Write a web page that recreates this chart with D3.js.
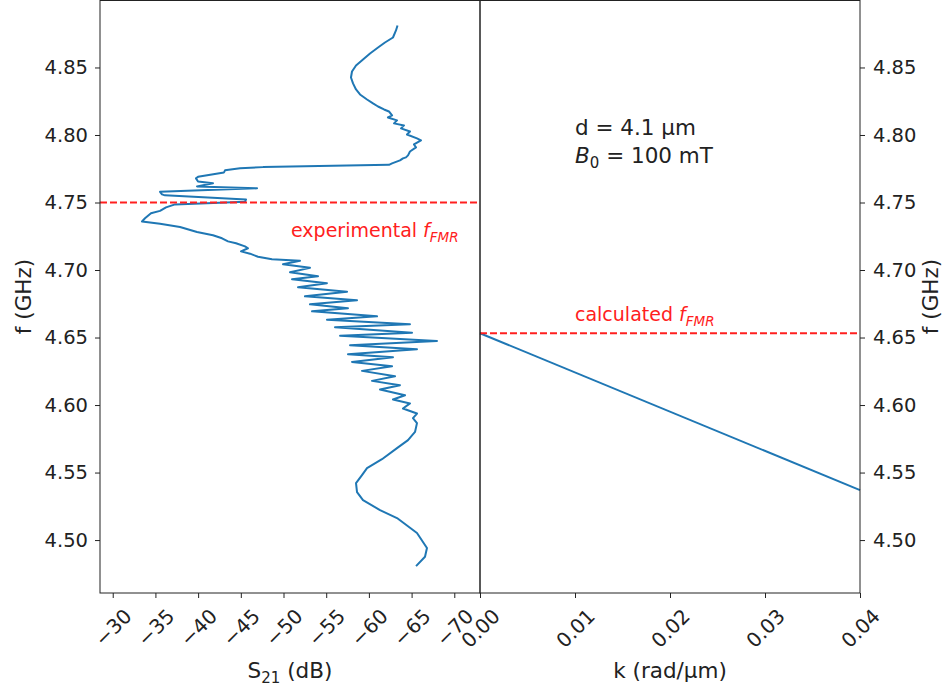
<!DOCTYPE html>
<html>
<head>
<meta charset="utf-8">
<script src="https://cdn.jsdelivr.net/npm/d3@7"></script>
<style>
body { margin: 0; background: #fff; }
text { font-family: "DejaVu Sans", sans-serif; fill: #222; }
</style>
</head>
<body>
<svg id="chart" width="944" height="688"></svg>
<script>
var s21 = [-63.35, -63.17, -62.82, -61.88, -61.07, -60.13, -59.31, -58.49, -58.02, -57.90,
  -58.14, -58.49, -58.96, -59.78, -60.48, -61.07, -61.77, -62.35, -62.71, -62.23,
  -63.29, -62.94, -64.11, -63.76, -64.81, -64.46, -65.63, -66.10, -65.28, -65.51,
  -64.81, -64.58, -64.34, -63.99, -63.64, -62.71, -62.35, -47.60, -44.91, -43.15,
  -43.03, -39.99, -39.75, -39.99, -41.74, -39.87, -46.90, -35.54, -35.77, -36.12,
  -45.61, -45.49, -37.30, -36.24, -35.54, -34.48, -33.78, -33.43, -35.54, -37.88,
  -39.87, -41.74, -42.80, -43.50, -44.44, -45.49, -45.84, -45.02, -46.08, -47.01,
  -48.65, -51.93, -49.94, -53.10, -50.76, -54.04, -51.00, -55.09, -51.70, -57.44,
  -52.51, -58.61, -53.10, -57.55, -53.34, -60.95, -55.09, -64.81, -56.03, -65.05,
  -56.62, -67.97, -57.79, -65.63, -57.55, -62.82, -58.02, -62.71, -59.19, -63.06,
  -60.36, -63.64, -61.30, -64.23, -62.82, -64.81, -63.99, -65.63, -65.16, -65.63,
  -65.40, -64.58, -63.29, -61.53, -59.78, -59.19, -58.49, -58.61, -59.31, -61.30,
  -63.29, -65.63, -66.80, -66.57, -65.52];
var freq = [4.8811, 4.8774, 4.8722, 4.8685, 4.8648, 4.8604, 4.8559, 4.8515, 4.8470, 4.8426,
  4.8382, 4.8337, 4.8300, 4.8263, 4.8234, 4.8211, 4.8189, 4.8174, 4.8145, 4.8130,
  4.8108, 4.8086, 4.8071, 4.8049, 4.8026, 4.8004, 4.7975, 4.7960, 4.7930, 4.7908,
  4.7878, 4.7849, 4.7834, 4.7827, 4.7812, 4.7790, 4.7779, 4.7762, 4.7753, 4.7738,
  4.7723, 4.7690, 4.7679, 4.7656, 4.7642, 4.7619, 4.7605, 4.7579, 4.7560, 4.7553,
  4.7523, 4.7505, 4.7486, 4.7464, 4.7438, 4.7420, 4.7383, 4.7360, 4.7342, 4.7318,
  4.7281, 4.7257, 4.7235, 4.7212, 4.7198, 4.7175, 4.7161, 4.7138, 4.7121, 4.7098,
  4.7079, 4.7068, 4.7042, 4.7016, 4.6983, 4.6953, 4.6931, 4.6902, 4.6872, 4.6839,
  4.6805, 4.6776, 4.6746, 4.6717, 4.6694, 4.6657, 4.6632, 4.6598, 4.6576, 4.6535,
  4.6513, 4.6475, 4.6443, 4.6413, 4.6376, 4.6354, 4.6319, 4.6287, 4.6253, 4.6213,
  4.6179, 4.6147, 4.6115, 4.6073, 4.6041, 4.6012, 4.5974, 4.5937, 4.5903, 4.5866,
  4.5801, 4.5740, 4.5681, 4.5599, 4.5533, 4.5481, 4.5422, 4.5355, 4.5296, 4.5222,
  4.5163, 4.5052, 4.4941, 4.4876, 4.4807];

// calculated dispersion
var kVals = [0, 0.04];
var fDisp = [4.6532, 4.537];

var fExpFMR = 4.75;
var fCalcFMR = 4.6532;

var s21Ticks = [-30, -35, -40, -45, -50, -55, -60, -65, -70];
var kTicks = [0, 0.01, 0.02, 0.03, 0.04];
var fTicks = [4.50, 4.55, 4.60, 4.65, 4.70, 4.75, 4.80, 4.85];

var svg = d3.select("#chart");
var T = 0.5, B = 593, L = 100, M = 480, R = 860;
var tickFs = 19.5;

var y = d3.scaleLinear().domain([4.4608, 4.8996]).range([B, T]);
var xL = d3.scaleLinear().domain([-28.51, -73.01]).range([L, M]);
var xR = d3.scaleLinear().domain([0, 0.04]).range([M, R]);

function styleAxis(g) {
  g.attr("font-size", tickFs).attr("font-family", null);
  g.select(".domain").remove();
  g.selectAll(".tick line").attr("stroke", "#222").attr("stroke-width", 1);
  g.selectAll(".tick text").attr("fill", "#222");
}

// y axes
svg.append("g").attr("transform", "translate(" + L + ",0)")
  .call(d3.axisLeft(y).tickValues(fTicks).tickFormat(d3.format(".2f")).tickSize(5).tickPadding(7))
  .call(styleAxis);
svg.append("g").attr("transform", "translate(" + R + ",0)")
  .call(d3.axisRight(y).tickValues(fTicks).tickFormat(d3.format(".2f")).tickSize(5).tickPadding(8))
  .call(styleAxis);

function rotateLabels(g) {
  g.selectAll(".tick text").attr("font-size", 20).each(function() {
    var t = d3.select(this);
    var w = this.getComputedTextLength();
    var h = (w * 0.9 + 20 * 0.73) * 0.7071;
    t.attr("y", null).attr("dy", null)
      .attr("text-anchor", "middle")
      .attr("dominant-baseline", "central")
      .attr("transform", "translate(0," + (16 + h / 2) + ") rotate(-45)");
  });
}

svg.append("g").attr("transform", "translate(0," + B + ")")
  .call(d3.axisBottom(xL).tickValues(s21Ticks).tickFormat(d3.format("d")).tickSize(5))
  .call(styleAxis).call(rotateLabels);
svg.append("g").attr("transform", "translate(0," + B + ")")
  .call(d3.axisBottom(xR).tickValues(kTicks).tickFormat(d3.format(".2f")).tickSize(5))
  .call(styleAxis).call(rotateLabels);

// data
var line = d3.line();
svg.append("path")
  .attr("d", line(s21.map(function(d, i) { return [xL(d), y(freq[i])]; })))
  .attr("fill", "none").attr("stroke", "#1f77b4").attr("stroke-width", 2)
  .attr("stroke-linejoin", "round");
svg.append("path")
  .attr("d", line(kVals.map(function(d, i) { return [xR(d), y(fDisp[i])]; })))
  .attr("fill", "none").attr("stroke", "#1f77b4").attr("stroke-width", 2);

// fmr markers
svg.append("line").attr("x1", L).attr("x2", M).attr("y1", y(fExpFMR)).attr("y2", y(fExpFMR))
  .attr("stroke", "#ff2020").attr("stroke-width", 2).attr("stroke-dasharray", "7,3");
svg.append("line").attr("x1", M).attr("x2", R).attr("y1", y(fCalcFMR)).attr("y2", y(fCalcFMR))
  .attr("stroke", "#ff2020").attr("stroke-width", 2).attr("stroke-dasharray", "7,3");

// frames
svg.append("rect").attr("x", L).attr("y", T).attr("width", M - L).attr("height", B - T)
  .attr("fill", "none").attr("stroke", "#222").attr("stroke-width", 1);
svg.append("rect").attr("x", M).attr("y", T).attr("width", R - M).attr("height", B - T)
  .attr("fill", "none").attr("stroke", "#222").attr("stroke-width", 1);

// axis labels
var xl = svg.append("text").attr("x", 290).attr("y", 678).attr("text-anchor", "middle").attr("font-size", 21.5);
xl.append("tspan").text("S");
xl.append("tspan").attr("font-size", 15).attr("dy", 5).text("21");
xl.append("tspan").attr("dy", -5).text(" (dB)");
svg.append("text").attr("x", 670).attr("y", 678).attr("text-anchor", "middle").attr("font-size", 21.5)
  .text("k (rad/\u03bcm)");
svg.append("text").attr("transform", "translate(31,296.5) rotate(-90)").attr("text-anchor", "middle")
  .attr("font-size", 21.5).text("f (GHz)");
svg.append("text").attr("transform", "translate(938,296.5) rotate(-90)").attr("text-anchor", "middle")
  .attr("font-size", 21.5).text("f (GHz)");

// annotations
svg.append("text").attr("x", 575).attr("y", 135).attr("font-size", 21.5).text("d = 4.1 \u03bcm");
var b0 = svg.append("text").attr("x", 575).attr("y", 163).attr("font-size", 21.5);
b0.append("tspan").attr("font-style", "italic").text("B");
b0.append("tspan").attr("font-size", 15).attr("dy", 5).text("0");
b0.append("tspan").attr("dy", -5).text(" = 100 mT");

function fmrLabel(x, yy, txt) {
  var t = svg.append("text").attr("x", x).attr("y", yy).attr("font-size", 19)
    .style("fill", "#ff2020");
  t.append("tspan").text(txt + " ");
  t.append("tspan").attr("font-style", "italic").text("f");
  t.append("tspan").attr("font-style", "italic").attr("font-size", 13.5).attr("dy", 5).text("FMR");
}
fmrLabel(291, 237, "experimental");
fmrLabel(575, 321, "calculated");
</script>
</body>
</html>
